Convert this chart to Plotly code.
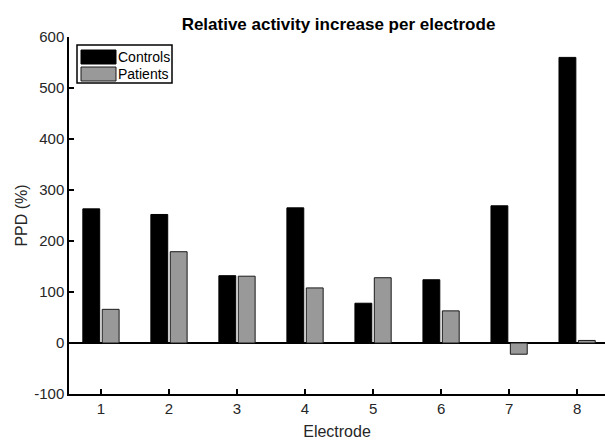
import plotly.graph_objects as go

electrodes = [1, 2, 3, 4, 5, 6, 7, 8]
controls = [263, 252, 132, 265, 78, 124, 269, 560]
patients = [66, 179, 131, 108, 128, 63, -22, 5]
y_ticks = [-100, 0, 100, 200, 300, 400, 500, 600]
y_tick_labels = ["-100", "0", "100", "200", "300", "400", "500", "600"]

L, R, T, B = 69, 605, 37, 394
W, H = 605, 441

def px(x):
    return (x - L) / (R - L)

def py(y):
    return (B - y) / (B - T)

fig = go.Figure()
fig.add_trace(go.Bar(x=electrodes, y=controls, name="Controls",
                     marker=dict(color="#000000", line=dict(color="#000000", width=1)),
                     showlegend=False))
fig.add_trace(go.Bar(x=electrodes, y=patients, name="Patients",
                     marker=dict(color="#999999", line=dict(color="#1a1a1a", width=1)),
                     showlegend=False))

font = "Liberation Sans, Arial, sans-serif"
shapes = [
    dict(type="rect", xref="paper", yref="paper", x0=px(77), x1=px(172), y0=py(83), y1=py(45),
         line=dict(color="#000000", width=1.5), fillcolor="white", layer="above"),
    dict(type="rect", xref="paper", yref="paper", x0=px(81), x1=px(116), y0=py(64), y1=py(50),
         line=dict(color="#000000", width=1), fillcolor="#000000", layer="above"),
    dict(type="rect", xref="paper", yref="paper", x0=px(81), x1=px(116), y0=py(81), y1=py(67),
         line=dict(color="#1a1a1a", width=1), fillcolor="#999999", layer="above"),
]
annotations = [
    dict(text="Controls", xref="paper", yref="paper", x=px(116), y=py(57), xanchor="left",
         yanchor="middle", showarrow=False, font=dict(family=font, size=14, color="#000000")),
    dict(text="Patients", xref="paper", yref="paper", x=px(116), y=py(74), xanchor="left",
         yanchor="middle", showarrow=False, font=dict(family=font, size=14, color="#000000")),
]

fig.update_layout(
    width=W, height=H,
    margin=dict(l=L, r=W - R, t=T, b=H - B),
    paper_bgcolor="white", plot_bgcolor="white",
    barmode="group", bargap=0.43, bargroupgap=0.13,
    title=dict(text="<b>Relative activity increase per electrode</b>", x=338.5 / W, xanchor="center",
               y=1 - 24 / H, yanchor="middle", font=dict(family=font, size=17, color="#000000")),
    font=dict(family=font, size=14, color="#262626"),
    shapes=shapes, annotations=annotations,
    xaxis=dict(range=[0.53, 8.41], tickmode="array", tickvals=electrodes,
               ticks="inside", ticklen=5, tickcolor="#000000", tickwidth=1.5,
               showline=True, linecolor="#000000", linewidth=1.5, showgrid=False, zeroline=False,
               title=dict(text="Electrode", standoff=10, font=dict(size=16, color="#262626")),
               tickfont=dict(size=15, color="#262626")),
    yaxis=dict(range=[-100, 600], tickmode="array", tickvals=y_ticks, ticktext=y_tick_labels,
               ticks="inside", ticklen=5, tickcolor="#000000", tickwidth=1.5,
               showline=True, linecolor="#000000", linewidth=1.5, showgrid=False,
               zeroline=True, zerolinecolor="#000000", zerolinewidth=1.5,
               title=dict(text="PPD (%)", standoff=3, font=dict(size=16, color="#262626")),
               tickfont=dict(size=15, color="#262626")),
)

fig.write_html("out.html", config={"displayModeBar": False})
with open("out.html", encoding="utf-8") as f:
    html = f.read()
html = html.replace("<head>", "<head><style>html,body{margin:0;padding:0;overflow:hidden;}</style>", 1)
with open("out.html", "w", encoding="utf-8") as f:
    f.write(html)
